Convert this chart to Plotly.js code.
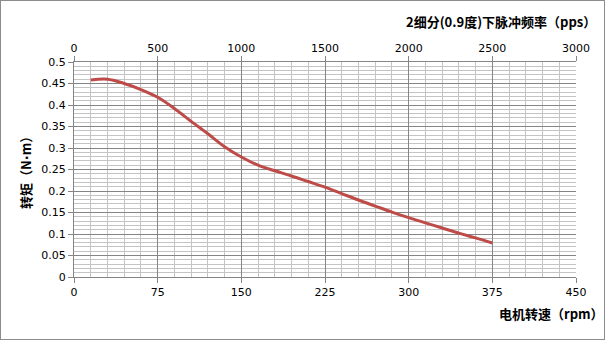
<!DOCTYPE html>
<html>
<head>
<meta charset="utf-8">
<script src="https://cdn.plot.ly/plotly-3.0.1.min.js"></script>
<style>
html,body{margin:0;padding:0;background:#fff;}
#wrap{position:relative;width:606px;height:341px;}
#chart{width:606px;height:341px;}
#frame{position:absolute;left:0;top:0;width:603px;height:338px;border:1px solid #8c8c8c;pointer-events:none;}
</style>
</head>
<body>
<div id="wrap"><div id="chart"></div><div id="frame"></div></div>
<script>
// Motor speed (rpm) and torque (N·m)
var speedRpm = [15, 30, 45, 60, 75, 90, 105, 120, 135, 150, 165, 180, 195, 210, 225, 240, 255, 270, 285, 300, 315, 330, 345, 360, 375];
var torqueNm = [0.458, 0.460, 0.450, 0.436, 0.418, 0.392, 0.362, 0.333, 0.303, 0.279, 0.260, 0.247, 0.235, 0.222, 0.209, 0.194, 0.179, 0.165, 0.151, 0.138, 0.126, 0.114, 0.102, 0.091, 0.079];
// Pulse frequency at 2 microsteps (0.9°): pps = rpm / 0.15
var pulsePps = [100, 200, 300, 400, 500, 600, 700, 800, 900, 1000, 1100, 1200, 1300, 1400, 1500, 1600, 1700, 1800, 1900, 2000, 2100, 2200, 2300, 2400, 2500];

var bottomTitle = "电机转速（rpm）";
var topTitle = "2细分(0.9度)下脉冲频率（pps）";
var yTitle = "转矩（N<span style=\"font-family:DejaVu Sans\">·</span>m）";

var tickFont = {family: "DejaVu Sans, Verdana, sans-serif", size: 11, color: "#000"};
var titleFont = {family: "Noto Sans CJK SC, sans-serif", size: 13, color: "#000", weight: "bold"};

var traces = [
  {x: speedRpm, y: torqueNm, type: "scatter", mode: "lines",
   line: {color: "#BE4B48", width: 3, shape: "spline", smoothing: 1}, hoverinfo: "x+y", showlegend: false},
  {x: pulsePps, y: torqueNm, xaxis: "x2", type: "scatter", mode: "lines",
   line: {color: "rgba(0,0,0,0)", width: 0}, hoverinfo: "skip", showlegend: false}
];

var layout = {
  width: 606, height: 341,
  margin: {l: 74, r: 30, t: 62, b: 64, pad: 0},
  paper_bgcolor: "#fff", plot_bgcolor: "#fff",
  xaxis: {range: [0, 450], dtick: 75, tick0: 0, showgrid: true, gridcolor: "#858585", gridwidth: 1,
    minor: {dtick: 15, showgrid: true, gridcolor: "#c4c4c4", gridwidth: 1},
    zeroline: false, showline: true, linecolor: "#858585", ticks: "outside", ticklen: 5, tickcolor: "#858585",
    tickfont: tickFont, fixedrange: true},
  xaxis2: {range: [0, 3000], dtick: 500, tick0: 0, overlaying: "x", side: "top", showgrid: false,
    zeroline: false, showline: true, linecolor: "#858585", ticks: "outside", ticklen: 5, tickcolor: "#858585",
    tickfont: tickFont, fixedrange: true},
  yaxis: {range: [0, 0.5], dtick: 0.05, tick0: 0, showgrid: true, gridcolor: "#858585", gridwidth: 1,
    minor: {dtick: 0.01, showgrid: true, gridcolor: "#c4c4c4", gridwidth: 1},
    zeroline: false, showline: true, linecolor: "#858585", ticks: "outside", ticklen: 5, tickcolor: "#858585",
    tickfont: tickFont, fixedrange: true},
  annotations: [
    {text: bottomTitle, xref: "paper", yref: "paper", x: (606 - 74) / 502, y: (277 - 313) / 215,
     xanchor: "right", yanchor: "middle", showarrow: false, font: titleFont},
    {text: topTitle, xref: "paper", yref: "paper", x: (598 - 74) / 502, y: (277 - 22) / 215,
     xanchor: "right", yanchor: "middle", showarrow: false, font: titleFont},
    {text: yTitle, xref: "paper", yref: "paper", x: (25 - 74) / 502, y: (277 - 170) / 215,
     xanchor: "center", yanchor: "middle", textangle: -90, showarrow: false, font: titleFont}
  ]
};

Plotly.newPlot("chart", traces, layout, {displayModeBar: false, staticPlot: true});
</script>
</body>
</html>
